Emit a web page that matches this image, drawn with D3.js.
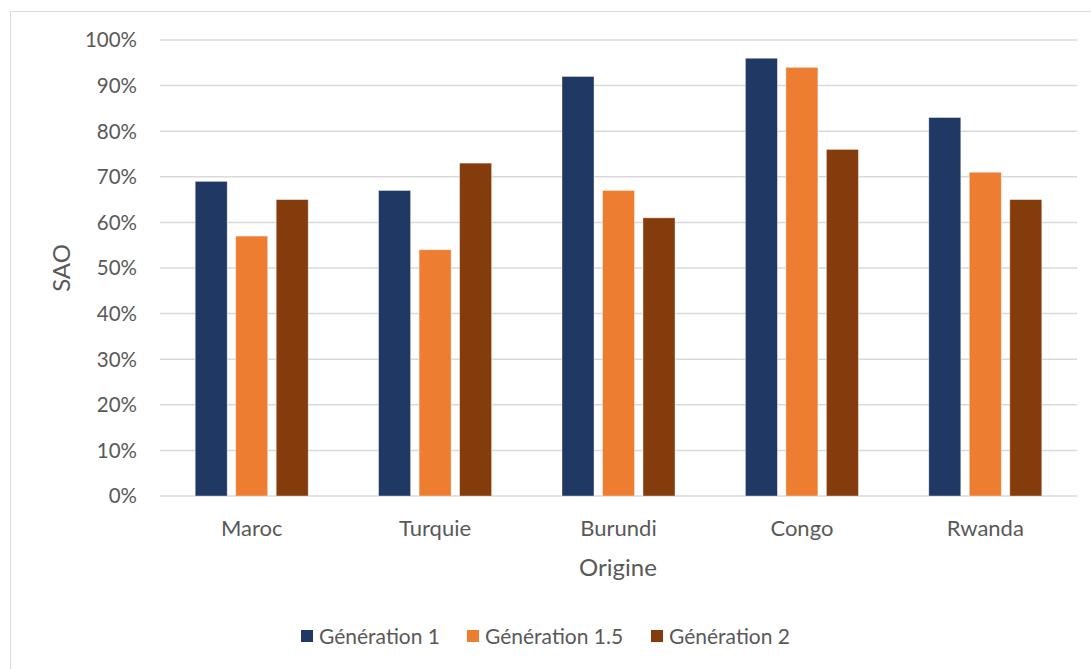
<!DOCTYPE html>
<html lang="fr">
<head>
<meta charset="UTF-8">
<title>SAO par origine</title>
<script src="https://d3js.org/d3.v7.min.js"></script>
<style>
    body { margin: 0; background: #fff; }
    svg text { font-family: Lato, "Open Sans", sans-serif; fill: #595959; }
</style>
</head>
<body>
<div id="chart"></div>
<script>
    const categories = ["Maroc", "Turquie", "Burundi", "Congo", "Rwanda"];
    const seriesNames = ["Génération 1", "Génération 1.5", "Génération 2"];
    const gen1 = [0.69, 0.67, 0.92, 0.96, 0.83];
    const gen15 = [0.57, 0.54, 0.67, 0.94, 0.71];
    const gen2 = [0.65, 0.73, 0.61, 0.76, 0.65];
    const colors = ["#203864", "#ED7D31", "#843C0C"];
    const yTicks = [0, 0.1, 0.2, 0.3, 0.4, 0.5, 0.6, 0.7, 0.8, 0.9, 1];

    const series = [gen1, gen15, gen2];
    const width = 1091, height = 669;
    const plot = { left: 160, right: 1077, top: 40, bottom: 496 };

    const svg = d3.select("#chart").append("svg")
        .attr("width", width).attr("height", height);

    // chart border
    svg.append("rect")
        .attr("x", 10.5).attr("y", 11.5)
        .attr("width", width - 10).attr("height", height - 5)
        .attr("fill", "none").attr("stroke", "#d9d9d9");

    const x = d3.scaleBand().domain(categories).range([plot.left, plot.right]);
    const groupW = 113;
    const xInner = d3.scaleBand().domain(d3.range(series.length))
        .range([0, groupW]).paddingInner(0.21);
    const y = d3.scaleLinear().domain([0, 1]).range([plot.bottom, plot.top]);

    // gridlines
    svg.append("g").selectAll("line").data(yTicks).join("line")
        .attr("x1", plot.left).attr("x2", plot.right)
        .attr("y1", d => y(d)).attr("y2", d => y(d))
        .attr("stroke", "#d9d9d9").attr("stroke-width", 1.5);

    // y axis labels
    svg.append("g").selectAll("text").data(yTicks).join("text")
        .attr("x", 137).attr("y", d => y(d))
        .attr("dy", "0.36em").attr("text-anchor", "end")
        .style("font-size", "20.5px")
        .text(d3.format(".0%"));

    // bars
    const groups = svg.append("g").selectAll("g").data(series).join("g")
        .attr("fill", (d, i) => colors[i]);
    groups.each(function (vals, si) {
        d3.select(this).selectAll("rect").data(vals).join("rect")
            .attr("x", (d, ci) => x(categories[ci]) + x.bandwidth() / 2 - groupW / 2 + xInner(si))
            .attr("y", d => y(d))
            .attr("width", xInner.bandwidth())
            .attr("height", d => y(0) - y(d))
            .attr("stroke", "#fff").attr("stroke-opacity", 0.5).attr("stroke-width", 0.75);
    });

    // category labels
    svg.append("g").selectAll("text").data(categories).join("text")
        .attr("x", d => x(d) + x.bandwidth() / 2).attr("y", 536)
        .attr("text-anchor", "middle")
        .style("font-size", "22px")
        .text(d => d);

    // axis titles
    svg.append("text")
        .attr("x", 618).attr("y", 576).attr("text-anchor", "middle")
        .style("font-size", "24px").text("Origine");
    svg.append("text")
        .attr("transform", "translate(70,268) rotate(-90)")
        .attr("text-anchor", "middle")
        .style("font-size", "24px").text("SAO");

    // legend
    const legendX = [301, 467, 651];
    const legend = svg.append("g").selectAll("g").data(seriesNames).join("g")
        .attr("transform", (d, i) => `translate(${legendX[i]},630)`);
    legend.append("rect").attr("width", 12).attr("height", 12)
        .attr("fill", (d, i) => colors[i]);
    legend.append("text").attr("x", 18).attr("y", 6).attr("dy", "0.36em")
        .style("font-size", "21px").text(d => d);
</script>
</body>
</html>
